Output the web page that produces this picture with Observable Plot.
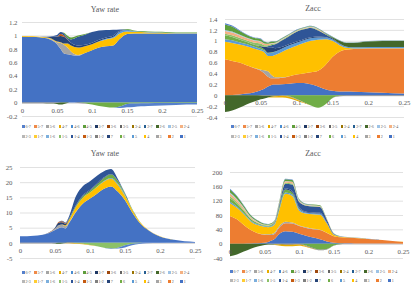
<!DOCTYPE html>
<html><head><meta charset="utf-8">
<script src="https://cdn.jsdelivr.net/npm/d3@7"></script>
<script src="https://cdn.jsdelivr.net/npm/@observablehq/plot@0.6"></script>
<style>
body{margin:0;background:#fff;}
#root{position:relative;width:418px;height:289px;background:#fff;overflow:hidden;font-family:"Liberation Serif","DejaVu Serif",serif;color:#595959;}
#root svg{position:absolute;}
.title{position:absolute;width:100px;text-align:center;font-size:8px;line-height:10px;color:#595959;}
.lrow{position:absolute;white-space:nowrap;height:6px;line-height:6px;font-size:4px;color:#595959;}
.lent{display:inline-block;width:12.2px;vertical-align:top;}
.lmk{display:inline-block;width:2.6px;height:2.6px;margin-right:0.8px;vertical-align:middle;position:relative;top:-0.3px;}
</style>
</head><body>
<div id="root"></div>
<script>
// ---------- data ----------
const seriesNames = ["1","2","3","4","5","6","7","1-2","1-3","1-4","1-5","1-6","1-7","2-3","2-4","2-5","2-6","2-7","3-4","3-5","3-6","3-7","4-5","4-6","4-7","5-6","5-7","6-7"];
const seriesColors = ["#4472C4","#ED7D31","#A5A5A5","#FFC000","#5B9BD5","#70AD47","#264478","#7F7F7F","#C55A11","#2F5597","#8CC168","#7CAFDD","#FFCD33","#B7B7B7","#F4B183","#9DC3E6","#43682B","#255E91","#997300","#636363","#9E480E","#1F3864","#5E9E3C","#4A8CD0","#E6AC00","#A5A5A5","#EF8A48","#5580CC"];
const legendRow1 = ["6-7","5-7","5-6","4-7","4-6","4-5","3-7","3-6","3-5","3-4","2-7","2-6","2-5","2-4"];
const legendRow2 = ["2-3","1-7","1-6","1-5","1-4","1-3","1-2","7","6","5","4","3","2","1"];

const xs = [0,0.01,0.02,0.03,0.04,0.05,0.055,0.06,0.065,0.07,0.08,0.09,0.1,0.11,0.12,0.13,0.14,0.15,0.16,0.17,0.18,0.2,0.22,0.25];
const xTicks = [0,0.05,0.1,0.15,0.2,0.25];
const xLabels = ["0","0.05","0.1","0.15","0.2","0.25"];

// Panel 1: Yaw rate (share)
const yawShare = [
 ["1",  [0.98,0.978,0.975,0.965,0.94,0.87,0.8,0.73,0.72,0.71,0.70,0.74,0.78,0.82,0.84,0.85,0.95,1.02,1.03,1.03,1.03,1.03,1.02,1.02]],
 ["3",  [0,0,0,0,0.01,0.03,0.09,0.13,0.10,0.05,0.01,0,0,0,0,0,0,0,0,0,0,0,0,0]],
 ["4",  [0.01,0.01,0.01,0.01,0.01,0.01,0.01,0.02,0.06,0.09,0.11,0.10,0.09,0.09,0.10,0.11,0.08,0.04,0.025,0.02,0.015,0.01,0.01,0.01]],
 ["5",  [0,0,0,0,0,0,0,0,0,0,0,0,0,0.005,0.01,0.015,0.03,0.02,0.01,0.005,0.005,0.005,0.005,0.005]],
 ["6",  [0,0,0,0,0,0,0,0,0,0,0,-0.01,-0.03,-0.05,-0.065,-0.075,-0.06,-0.02,-0.015,-0.01,-0.01,-0.008,-0.005,-0.005]],
 ["7",  [0,0,0,0.005,0.02,0.07,0.09,0.10,0.06,0.04,0.03,0.02,0.02,0.02,0.02,0.02,0.01,0,0,0,0,0,0,0]],
 ["1-2",[-0.01,-0.01,-0.01,-0.01,-0.01,-0.005,0,0,0,0,-0.005,-0.005,0,0,0,0,0,0,0,0,0,0,0,0]],
 ["1-3",[0,0,0,0,0,0.005,0.03,0.02,0.005,0,0,0,0,0,0,0,0,0,0,0,0,0,0,0]],
 ["1-4",[0,0,0,0,0.005,0.02,0.03,0.03,0.02,0.05,0.13,0.15,0.16,0.14,0.11,0.09,0.02,0.005,0,0,0,0,0,0]],
 ["2-6",[0,0,0,0,-0.005,-0.015,-0.03,-0.02,-0.005,0,0,0,0,0,0,0,0,0,0,0,0,0,0,0]],
 ["4-5",[0,0,0,0,0,0,0,0.01,0.03,0.03,0.02,0.01,0,0,0,0,0,0.01,0.01,0.01,0.01,0.01,0.01,0.01]],
 ["6-7",[0,0,0,0,0,0,0,0,0,0,0,0,0,0,0,0,-0.02,-0.05,-0.05,-0.045,-0.04,-0.035,-0.03,-0.025]]
];
// Panel 2: Zacc (share)
const zaccShare = [
 ["1",  [0,0.005,0.015,0.03,0.05,0.09,0.12,0.16,0.19,0.195,0.2,0.21,0.225,0.225,0.2,0.16,0.11,0.08,0.07,0.07,0.065,0.055,0.045,0.03]],
 ["2",  [0.66,0.625,0.585,0.52,0.45,0.36,0.28,0.18,0.12,0.115,0.12,0.14,0.155,0.175,0.22,0.29,0.44,0.62,0.73,0.77,0.785,0.805,0.815,0.83]],
 ["3",  [0,0,0,0,0.005,0.02,0.06,0.1,0.06,0.02,0.01,0,0,0,0,0,0,0,0,0,0,0,0,0]],
 ["4",  [0.32,0.33,0.33,0.35,0.355,0.35,0.33,0.28,0.35,0.41,0.47,0.51,0.53,0.56,0.58,0.57,0.48,0.30,0.12,0.03,0.01,0.005,0.005,0.005]],
 ["5",  [0.05,0.05,0.045,0.04,0.035,0.03,0.03,0.05,0.06,0.06,0.06,0.06,0.055,0.05,0.045,0.04,0.03,0.025,0.02,0.02,0.02,0.02,0.02,0.02]],
 ["6",  [0.07,0.06,0.05,0.04,0.03,0.03,0.02,0.01,0.01,0.005,0,-0.02,-0.07,-0.13,-0.19,-0.23,-0.17,-0.05,-0.01,0,0,0,0,0]],
 ["7",  [0,0,0,0,0.005,0.02,0.05,0.1,0.09,0.06,0.03,0.02,0.02,0.02,0.02,0.02,0.01,0,0,0,0,0,0,0]],
 ["1-2",[0,0,0,0,0,-0.005,-0.01,-0.01,-0.01,-0.01,-0.01,-0.01,-0.01,-0.005,0,0,0,-0.005,-0.01,-0.01,-0.01,-0.01,-0.01,-0.01]],
 ["1-4",[0,0,0,0,0,0,0,0.02,0.04,0.07,0.12,0.15,0.18,0.18,0.17,0.11,0.05,0.02,0.01,0,0,0,0,0]],
 ["1-5",[0.03,0.03,0.03,0.03,0.04,0.05,0.03,0.02,0.02,0.015,0.01,0.01,0.01,0.01,0.01,0.01,0.005,0,0,0,0,0,0,0]],
 ["2-4",[0.05,0.05,0.045,0.04,0.035,0.03,0.025,0.02,0.015,0.01,0.01,0.01,0.01,0.01,0.01,0.01,0.005,0,0,0,0,0,0,0]],
 ["2-5",[0.02,0.02,0.015,0.01,0.01,0.01,0.005,0.005,0.005,0.005,0.005,0.005,0.005,0.005,0.005,0.005,0,0,0,0,0,0,0,0]],
 ["2-6",[-0.31,-0.28,-0.23,-0.17,-0.12,-0.07,-0.05,-0.03,-0.02,-0.01,0,0,0,0,0,0,0.005,0.02,0.05,0.07,0.08,0.1,0.11,0.11]],
 ["4-5",[0.1,0.09,0.07,0.05,0.04,0.04,0.03,0.02,0.025,0.02,0.015,0.01,0.01,0.01,0.01,0.01,0.01,0.01,0.005,0.005,0.005,0.005,0.005,0.005]],
 ["4-7",[0,0,0,0,0,0,0,0,-0.01,-0.02,-0.03,-0.03,-0.02,-0.01,0,0,0,0,0,0,0,0,0,0]],
 ["6-7",[0.02,0.02,0.015,0.01,0.01,0.01,0.005,0.005,0.005,0.005,0.005,0.005,0.005,0.005,0.005,0.005,0.005,0.005,0.005,0.005,0.005,0.005,0.005,0.005]]
];
// Panel 3: Yaw rate (absolute)
const yawAbs = [
 ["1",  [2.2,2.2,2.3,2.6,3.1,4.2,4.8,5.1,4.7,6.5,10.2,13.0,14.6,16.2,17.8,18.6,16.8,14.0,10.2,6.9,4.7,2.1,1.0,0.3]],
 ["3",  [0,0,0,0,0.1,0.5,1.0,0.9,0.8,0.3,0.1,0,0,0,0,0,0,0,0,0,0,0,0,0]],
 ["4",  [0,0,0,0,0,0,0,0.05,0.3,0.7,1.6,1.9,2.0,2.2,2.4,2.5,2.3,1.5,0.8,0.4,0.2,0.05,0,0]],
 ["5",  [0,0,0,0,0,0,0,0,0,0,0,0,0,0.1,0.2,0.3,0.4,0.3,0.1,0,0,0,0,0]],
 ["6",  [0,0,0,0,0,0,0,0,0,0.2,0.3,0.5,0.6,0.8,1.0,1.1,0.8,0.4,0.2,0.1,0,0,0,0]],
 ["7",  [0,0,0,0,0.05,0.3,0.8,0.7,0.5,0.4,0.3,0.3,0.3,0.3,0.2,0.2,0.1,0,0,0,0,0,0,0]],
 ["1-2",[-0.1,-0.1,-0.1,-0.1,-0.1,-0.1,0,0,0,0,0,0,0,0,0,0,0,0,0,0,0,0,0,0]],
 ["1-3",[0,0,0,0,0,0,0.3,0.4,0.2,0,0,0,0,0,0,0,0,0,0,0,0,0,0,0]],
 ["1-4",[0,0,0,0,0,0,0,0.1,0.2,0.6,2.9,3.0,2.8,2.5,2.0,1.6,0.6,0.2,0,0,0,0,0,0]],
 ["1-5",[0,0,0,0,0,0,0,0,0,0,-0.1,-0.3,-0.7,-1.1,-1.6,-1.9,-1.6,-0.8,-0.3,-0.1,0,0,0,0]],
 ["2-6",[0,0,0,0,0,-0.1,-0.3,-0.2,-0.05,0,0,0,0,0,0,0,0,0,0,0,0,0,0,0]],
 ["4-7",[0,0,0,0,0,0,0,0,-0.05,-0.15,-0.2,-0.2,-0.1,0,0,0,0,0,0,0,0,0,0,0]],
 ["6-7",[0,0,0,0,0,0,0,0,0,0,0,0,0,0,0,-0.1,-0.3,-0.7,-0.5,-0.3,-0.15,-0.05,0,0]]
];
// Panel 4: Zacc (absolute)
const zaccAbs = [
 ["1",  [0,0,0,0.5,1,2.5,5,9,14,25,35,33,28,22,17,12,6,2.5,1.5,1,0.8,0.5,0.3,0.1]],
 ["2",  [77,68,52,37.5,28,22.5,19,15,14,17,22,23,21,22,23,26,24,18.5,16.5,16,15.2,12.5,9.7,4.9]],
 ["3",  [0,0,0,0,0,1,2,3,4,4,4,3,2,1.5,1.5,1,0.5,0,0,0,0,0,0,0]],
 ["4",  [36,32,30,24,23,21,20,21,23,39,78,74,41,38.5,40.5,42,25.5,4,1.5,1,0.5,0.3,0.2,0.1]],
 ["5",  [4,3.5,3,2.5,2,2,2,2,2.5,3,4,4,4,3,3,3,2,1,0.5,0.5,0.5,0.5,0.3,0.2]],
 ["6",  [10,8,6,4,3,2,2,2,2,4,8,6,2,-5,-12,-17,-15,-5,-1,0,0,0,0,0]],
 ["7",  [0,0,0,0,0,0,0,1,2,3,4,4,3,2,2,2,1,0,0,0,0,0,0,0]],
 ["1-2",[0,0,0,0,0,0,0,-1,-1.5,-2,-3,-3,-2.5,-2,-2,-1.5,-1,-1,-0.5,-0.5,-0.5,-0.3,-0.2,-0.1]],
 ["1-4",[0,0,0,0,0,0,0,0,1,4,12,18,15,17,17,16,8,2,0.5,0,0,0,0,0]],
 ["1-5",[5,4,3,2,1.5,1,1,1,1,2,3,3,2,1,1,1,0.5,0,0,0,0,0,0,0]],
 ["2-4",[8,7,5,3,2,1,1,1,1,2,4,4,2,1.5,1.5,1.5,1,0.3,0,0,0,0,0,0]],
 ["2-5",[3,2.5,2,1.5,1,0.5,0.5,0.5,0.5,0.5,1,1,1,0.5,0.5,0.5,0,0,0,0,0,0,0,0]],
 ["2-6",[-35,-30,-22,-14,-8,-4,-2.5,-1.5,-1,-0.5,0,0,0,0,0,0,0,0,0,0,0,0,0,0]],
 ["4-5",[8,7,5,4,3,2,2,2,2,3,5,5,3,2,2,2,1,0.5,0,0,0,0,0,0]],
 ["4-7",[0,0,0,0,0,0,0,0,-1,-2.5,-4,-4,-3,-2,-1,0,0,0,0,0,0,0,0,0]],
 ["6-7",[2,2,1.5,1,1,0.5,0.5,0.5,0.5,0.5,1,1,0.5,0.5,0.5,0.5,0,0,0,0,0,0,0,0]]
];

const yTicksShare1 = [-0.2,0,0.2,0.4,0.6,0.8,1,1.2];
const yLabelsShare1 = ["-0.2","0","0.2","0.4","0.6","0.8","1","1.2"];
const yTicksShare2 = [-0.4,-0.2,0,0.2,0.4,0.6,0.8,1,1.2,1.4];
const yLabelsShare2 = ["-0.4","-0.2","0","0.2","0.4","0.6","0.8","1","1.2","1.4"];
const yTicksYaw = [-5,0,5,10,15,20,25];
const yLabelsYaw = ["-5","0","5","10","15","20","25"];
const yTicksZacc = [-40,0,40,80,120,160,200];
const yLabelsZacc = ["-40","0","40","80","120","160","200"];

// ---------- layout ----------
const panels = [
  {title:"Yaw rate", series:yawShare, yt:yTicksShare1, yl:yLabelsShare1, left:0, top:0,
   mt:22, mb:29, ml:22, mr:12, pad:5, tx:105, ty:10, lx:22, ly:[127,137]},
  {title:"Zacc", series:zaccShare, yt:yTicksShare2, yl:yLabelsShare2, left:209, top:0,
   mt:19, mb:28, ml:16, mr:14, pad:8, tx:313, ty:9, lx:231, ly:[127,137]},
  {title:"Yaw rate", series:yawAbs, yt:yTicksYaw, yl:yLabelsYaw, left:0, top:145,
   mt:22, mb:32, ml:20, mr:14, pad:8, tx:105, ty:154, lx:22, ly:[273,282]},
  {title:"Zacc", series:zaccAbs, yt:yTicksZacc, yl:yLabelsZacc, left:209, top:145,
   mt:27, mb:32, ml:21, mr:15, pad:8, tx:313, ty:154, lx:230, ly:[272,281]}
];

const root = document.getElementById("root");
const colorOf = Object.fromEntries(seriesNames.map((s,i)=>[s,seriesColors[i]]));
// each series is split into a positive part and a negative part so the two stacks never cross
const stackOrder = seriesNames.flatMap(s => [s + "+", s + "-"]);

for (const p of panels) {
  const rows = p.series.flatMap(([s, vals]) => vals.flatMap((v, i) => [
    {x: xs[i], v: Math.max(v, 0), z: s + "+", s},
    {x: xs[i], v: v < 0 ? v : -1e-12, z: s + "-", s}
  ]));
  const yt = p.yt, yl = p.yl;
  const svg = Plot.plot({
    width: 209, height: 145,
    marginTop: p.mt, marginBottom: p.mb, marginLeft: p.ml, marginRight: p.mr,
    x: {domain: [0, 0.25], axis: null},
    y: {domain: [yt[0], yt[yt.length-1]], label: null},
    color: {domain: seriesNames, range: seriesColors},
    style: {fontFamily: "Liberation Serif", fontSize: "6.8px", color: "#595959", background: "transparent", overflow: "visible"},
    marks: [
      Plot.gridY(yt, {stroke: "#d9d9d9", strokeOpacity: 1, strokeWidth: 0.8}),
      Plot.ruleY([0], {stroke: "#d0d0d0", strokeWidth: 0.8}),
      Plot.areaY(rows, {x: "x", y: "v", z: "z", fill: "s", order: stackOrder, curve: "monotone-x"}),
      Plot.axisY(yt, {tickSize: 0, tickPadding: p.pad, label: null, tickFormat: d => yl[yt.indexOf(d)], fill: "#595959"}),
      Plot.text(xTicks, {x: d => d, y: () => 0, text: (d, i) => xLabels[i], dy: 7.5, fill: "#595959"})
    ]
  });
  svg.style.left = p.left + "px";
  svg.style.top = p.top + "px";
  root.appendChild(svg);

  const t = document.createElement("div");
  t.className = "title";
  t.textContent = p.title;
  t.style.left = (p.tx - 50) + "px";
  t.style.top = (p.ty - 5) + "px";
  root.appendChild(t);

  [legendRow1, legendRow2].forEach((names, r) => {
    const row = document.createElement("div");
    row.className = "lrow";
    row.style.left = p.lx + "px";
    row.style.top = (p.ly[r] - 3) + "px";
    for (const n of names) {
      const e = document.createElement("span");
      e.className = "lent";
      const m = document.createElement("span");
      m.className = "lmk";
      m.style.background = colorOf[n];
      e.appendChild(m);
      e.appendChild(document.createTextNode(n));
      row.appendChild(e);
    }
    root.appendChild(row);
  });
}
</script>
</body></html>
